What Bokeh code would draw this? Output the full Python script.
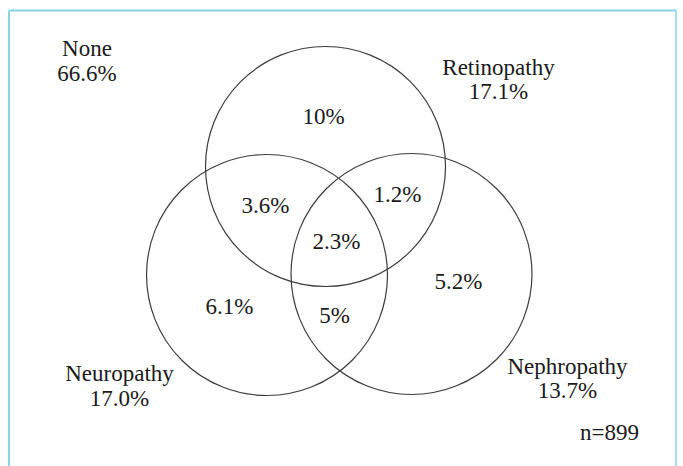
from bokeh.plotting import figure
from bokeh.models import Range1d, ColumnDataSource
from bokeh.core.properties import value
from bokeh.embed import file_html
from bokeh.resources import INLINE

# ---- data ----
set_names = ["Retinopathy", "Neuropathy", "Nephropathy"]
set_totals = [17.1, 17.0, 13.7]
none_name = "None"
none_total = 66.6
region_names = ["Ret only", "Ret+Neu", "Ret+Nep", "All three", "Nep only", "Neu only", "Neu+Nep"]
region_values = ["10%", "3.6%", "1.2%", "2.3%", "5.2%", "6.1%", "5%"]
sample_label = "n=899"

# ---- layout (pixel coordinates, y downward) ----
W, H = 683, 466

circle_cx = [325, 266.5, 411]
circle_cy = [166, 274.5, 273.5]
circle_d = [240, 241, 241]

region_x = [323, 265, 397, 336, 458, 229, 334]
region_y = [116, 204.5, 193.5, 240.5, 280.5, 305.5, 314.5]

set_lx = [498, 119, 567]
set_ly = [66.5, 373, 365.5]

FONT = value("Liberation Serif")
FS = "23px"
TC = "#1a1a1a"

p = figure(width=W, height=H, output_backend="svg", toolbar_location=None,
           x_range=Range1d(0, W), y_range=Range1d(H, 0),
           min_border=0, background_fill_color="white", border_fill_color="white")
p.axis.visible = False
p.grid.visible = False
p.outline_line_color = None

# light-blue frame (top, left, right)
frame = "#86d4e6"
p.line(x=[8.5, 8.5], y=[10, H], line_color=frame, line_width=2)
p.line(x=[8.5, 676], y=[10, 10], line_color=frame, line_width=2)
p.line(x=[675.5, 675.5], y=[10, H], line_color=frame, line_width=1.5)

# circles
src_c = ColumnDataSource(dict(x=circle_cx, y=circle_cy, d=circle_d, name=set_names))
p.ellipse(x="x", y="y", width="d", height="d", source=src_c,
          fill_color=None, line_color="#3c3c3c", line_width=1.2)

# region values
src_r = ColumnDataSource(dict(x=region_x, y=region_y, t=region_values, name=region_names))
p.text(x="x", y="y", text="t", source=src_r, text_font=FONT, text_font_size=FS,
       text_color=TC, text_align="center", text_baseline="middle")

# set labels
src_s = ColumnDataSource(dict(x=set_lx, y=set_ly, t=set_names))
p.text(x="x", y="y", text="t", source=src_s, text_font=FONT, text_font_size=FS,
       text_color=TC, text_align="center", text_baseline="middle")
src_s2 = ColumnDataSource(dict(x=set_lx, y=[v + 24.5 for v in set_ly],
                               t=[f"{v:.1f}%" for v in set_totals]))
p.text(x="x", y="y", text="t", source=src_s2, text_font=FONT, text_font_size=FS,
       text_color=TC, text_align="center", text_baseline="middle")

# none label
p.text(x=[86.5], y=[47.5], text=[none_name], text_font=FONT, text_font_size=FS,
       text_color=TC, text_align="center", text_baseline="middle")
p.text(x=[86.5], y=[72.5], text=[f"{none_total:.1f}%"], text_font=FONT, text_font_size=FS,
       text_color=TC, text_align="center", text_baseline="middle")

# sample size
p.text(x=[609], y=[432], text=[sample_label], text_font=FONT, text_font_size=FS,
       text_color=TC, text_align="center", text_baseline="middle")

open("out.html", "w").write(file_html(p, INLINE))
